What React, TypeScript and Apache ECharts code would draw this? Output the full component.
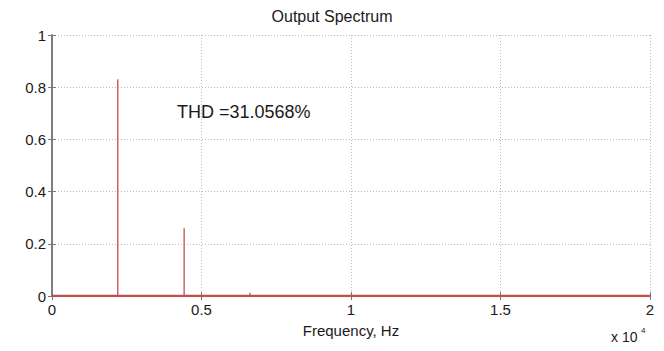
import React, { useEffect, useRef } from "react";
import * as echarts from "echarts";

const harmonicFreqs = [2200, 4420, 6620];
const harmonicMags = [0.83, 0.26, 0.012];
const xTicks = [0, 5000, 10000, 15000, 20000];
const yTicks = [0, 0.2, 0.4, 0.6, 0.8, 1];
const titleText = "Output Spectrum";
const xLabel = "Frequency, Hz";
const thdText = "THD =31.0568%";
const FONT = "Liberation Sans, Arial, sans-serif";

export default function App() {
  const ref = useRef<HTMLDivElement>(null);
  useEffect(() => {
    if (!ref.current) return;
    const chart = echarts.init(ref.current, undefined, { renderer: "svg" });
    const data: number[][] = [[0, 0]];
    harmonicFreqs.forEach((f, i) => {
      data.push([f, 0], [f, harmonicMags[i]], [f, 0]);
    });
    data.push([xTicks[xTicks.length - 1], 0]);
    const gridLine = () => ({ show: true, lineStyle: { color: "#bbb", type: [1, 2] as any, width: 1 } });
    const axisLine = () => ({ show: true, lineStyle: { color: "#777", width: 1.5 } });
    const tick = () => ({ show: true, inside: true, length: 4, lineStyle: { color: "#777" } });
    const labelStyle = { color: "#1a1a1a", fontSize: 15, fontFamily: FONT };
    chart.setOption({
      animation: false,
      backgroundColor: "#fff",
      title: {
        text: titleText,
        left: "center",
        top: 3,
        textStyle: { fontSize: 16, fontWeight: "normal", color: "#1a1a1a", fontFamily: FONT },
      },
      grid: { left: 52, right: 14, top: 35, bottom: 55 },
      xAxis: [
        {
          type: "value",
          min: xTicks[0],
          max: xTicks[xTicks.length - 1],
          interval: 5000,
          axisLine: axisLine(),
          axisTick: tick(),
          splitLine: gridLine(),
          axisLabel: { ...labelStyle, margin: 6, formatter: (v: number) => String(v / 10000) },
          name: xLabel,
          nameLocation: "middle",
          nameGap: 27,
          nameTextStyle: { color: "#1a1a1a", fontSize: 15, fontFamily: FONT },
        },
        {
          type: "value",
          position: "top",
          min: xTicks[0],
          max: xTicks[xTicks.length - 1],
          interval: 5000,
          axisLine: axisLine(),
          axisTick: tick(),
          splitLine: { show: false },
          axisLabel: { show: false },
        },
      ],
      yAxis: [
        {
          type: "value",
          min: yTicks[0],
          max: yTicks[yTicks.length - 1],
          interval: 0.2,
          axisLine: axisLine(),
          axisTick: tick(),
          splitLine: gridLine(),
          axisLabel: { ...labelStyle, margin: 6, formatter: (v: number) => String(Number(v.toFixed(1))) },
        },
        {
          type: "value",
          position: "right",
          min: yTicks[0],
          max: yTicks[yTicks.length - 1],
          interval: 0.2,
          axisLine: axisLine(),
          axisTick: tick(),
          splitLine: { show: false },
          axisLabel: { show: false },
        },
      ],
      series: [
        {
          type: "line",
          data,
          showSymbol: false,
          symbol: "none",
          lineStyle: { color: "#cc6666", width: 1.5 },
          z: 5,
        },
        {
          type: "line",
          data: [[xTicks[0], 0], [xTicks[xTicks.length - 1], 0]],
          symbol: "none",
          lineStyle: { color: "#c0504d", width: 2.5 },
          z: 6,
        },
      ],
      graphic: [
        {
          type: "text",
          left: 177,
          top: 103,
          style: { text: thdText, fontSize: 18, fill: "#1a1a1a", fontFamily: FONT },
        },
        {
          type: "text",
          left: 611,
          top: 330,
          style: { text: "x 10", fontSize: 14, fill: "#1a1a1a", fontFamily: FONT },
        },
        {
          type: "text",
          left: 641,
          top: 326,
          style: { text: "4", fontSize: 8, fill: "#1a1a1a", fontFamily: FONT },
        },
      ],
    });
    return () => chart.dispose();
  }, []);
  return (
    <div
      ref={ref}
      style={{ position: "fixed", left: 0, top: 0, width: 664, height: 351, background: "#fff" }}
    />
  );
}
